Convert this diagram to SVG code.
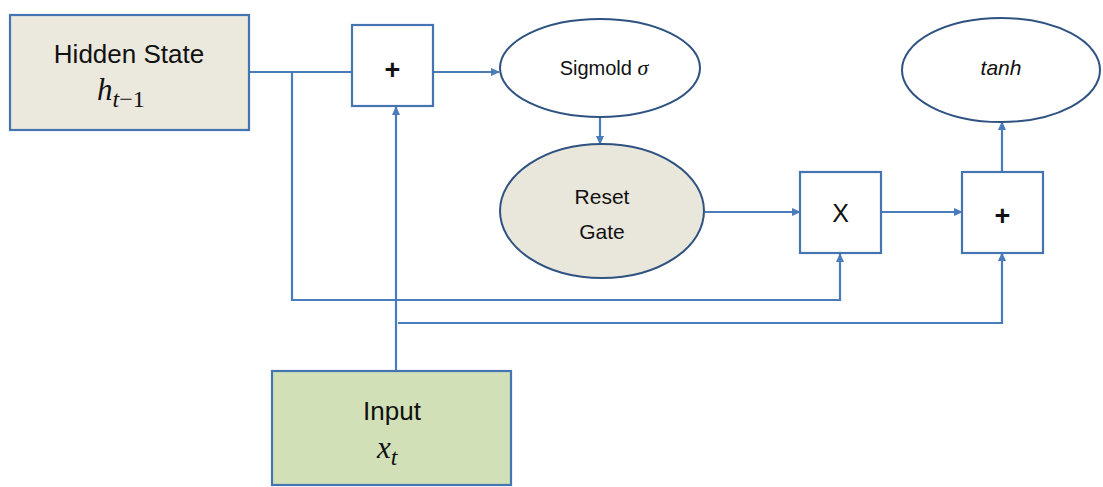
<svg xmlns="http://www.w3.org/2000/svg" width="1103" height="487" viewBox="0 0 1103 487">
  <style>
    .box { stroke: #4475b0; stroke-width: 2.2; }
    .ell { stroke: #2f5281; stroke-width: 2; }
    .wire { fill: none; stroke: #4a7cbc; stroke-width: 2.2; }
    .lbl { font-family: "Liberation Sans", "Open Sans", sans-serif; fill: #111; text-anchor: middle; }
    .plus { font-weight: bold; font-size: 27px; }
    .math { font-family: "Liberation Serif", "DejaVu Serif", serif; font-style: italic; fill: #111; }
  </style>
  <defs>
    <marker id="arr" viewBox="0 0 10 10" refX="9" refY="5" markerWidth="9" markerHeight="9" orient="auto" markerUnits="userSpaceOnUse">
      <path d="M0,0.5 L10,5 L0,9.5 z" fill="#4a7cbc"/>
    </marker>
  </defs>
  <rect width="1103" height="487" fill="#ffffff"/>

  <g id="connectors">
    <!-- hidden state into first adder -->
    <path class="wire" d="M249,72 H352"/>
    <!-- hidden state branch down and across to multiplier -->
    <path class="wire" d="M292,72 V300 H840 V254" marker-end="url(#arr)"/>
    <!-- input up into first adder -->
    <path class="wire" d="M396,371 V107" marker-end="url(#arr)"/>
    <!-- input branch across to second adder -->
    <path class="wire" d="M398,323 H1002 V253" marker-end="url(#arr)"/>
    <!-- adder to sigmoid -->
    <path class="wire" d="M433,72 H499" marker-end="url(#arr)"/>
    <!-- sigmoid to reset gate -->
    <path class="wire" d="M600,117 V144" marker-end="url(#arr)"/>
    <!-- reset gate to multiplier -->
    <path class="wire" d="M705,212 H800" marker-end="url(#arr)"/>
    <!-- multiplier to second adder -->
    <path class="wire" d="M881,212 H962" marker-end="url(#arr)"/>
    <!-- second adder to tanh -->
    <path class="wire" d="M1002,172 V122" marker-end="url(#arr)"/>
  </g>

  <g id="hidden-state">
    <rect class="box" x="10" y="15" width="239" height="115" fill="#ebe8de"/>
    <text class="lbl" x="129" y="63" font-size="26">Hidden State</text>
    <text class="math" x="97" y="100" font-size="31">h<tspan font-size="24" dy="7">t</tspan><tspan font-size="24" font-style="normal">−1</tspan></text>
  </g>

  <g id="add-1">
    <rect class="box" x="352" y="25" width="81" height="81" fill="#ffffff"/>
    <text class="lbl plus" x="392.5" y="79">+</text>
  </g>

  <g id="sigmoid">
    <ellipse class="ell" cx="600" cy="68" rx="100" ry="49" fill="#ffffff"/>
    <text class="lbl" x="604" y="75" font-size="20">Sigmold <tspan class="math" font-size="22">σ</tspan></text>
  </g>

  <g id="reset-gate">
    <ellipse class="ell" cx="602" cy="211" rx="102" ry="67" fill="#e9e6dc"/>
    <text class="lbl" x="602" y="204" font-size="21">Reset</text>
    <text class="lbl" x="602" y="239" font-size="21">Gate</text>
  </g>

  <g id="multiply">
    <rect class="box" x="800" y="172" width="81" height="81" fill="#ffffff"/>
    <text class="lbl" x="840.5" y="222" font-size="25">X</text>
  </g>

  <g id="add-2">
    <rect class="box" x="962" y="172" width="81" height="81" fill="#ffffff"/>
    <text class="lbl plus" x="1002.5" y="225">+</text>
  </g>

  <g id="tanh">
    <ellipse class="ell" cx="1001" cy="70" rx="99" ry="52" fill="#ffffff"/>
    <text class="lbl" x="1001" y="75" font-size="21" font-style="italic">tanh</text>
  </g>

  <g id="input">
    <rect class="box" x="272" y="371" width="239" height="114" fill="#d2e0b8"/>
    <text class="lbl" x="392" y="420" font-size="26">Input</text>
    <text class="math" x="377" y="458" font-size="31">x<tspan font-size="24" dy="7">t</tspan></text>
  </g>
</svg>
